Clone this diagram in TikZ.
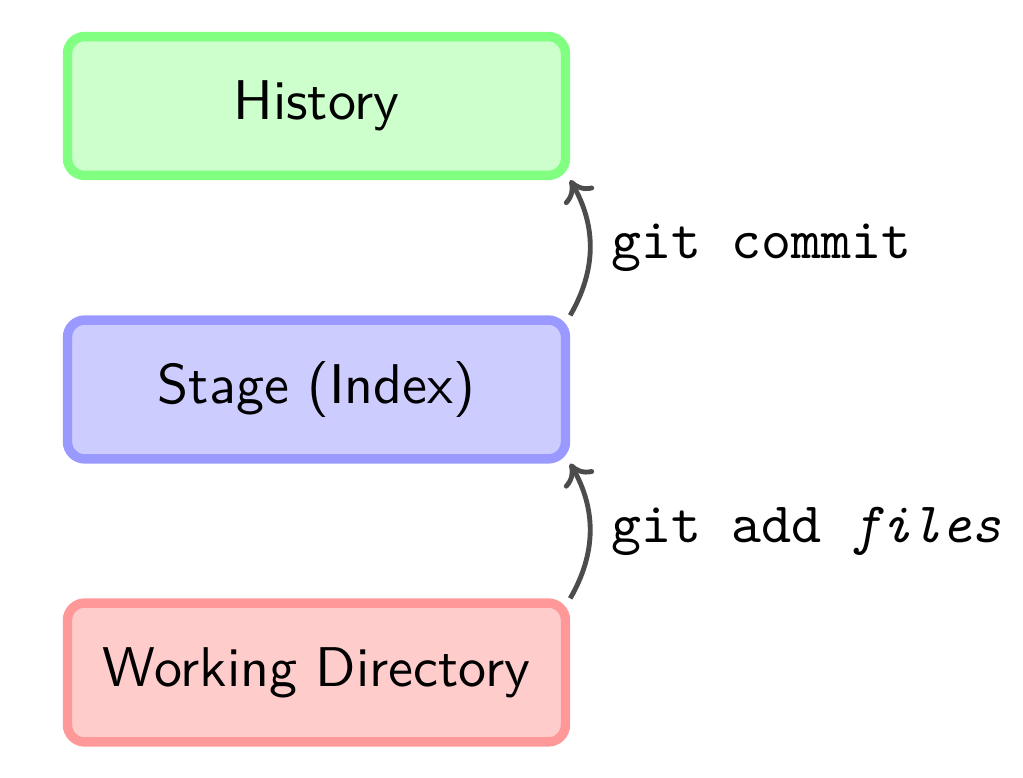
\documentclass[tikz,border=0pt]{standalone}
\usetikzlibrary{arrows.meta}
\begin{document}
\begin{tikzpicture}[x=0.175pt,y=0.175pt,
  area/.style={rectangle, rounded corners=3pt, line width=1.65pt,
    minimum width=87.15pt, minimum height=24.3pt,
    font=\sffamily\fontsize{9.8}{12}\selectfont},
  flow/.style={draw=black!70, line width=0.85pt, -{To[length=3.5pt,width=6pt]}},
  cmd/.style={right, inner sep=3.3pt, font=\ttfamily}]
\useasboundingbox (0,0) rectangle (1023,777);
\node[area, draw=green!50, fill=green!20] (hist) at (316.5,671) {History};
\node[area, draw=blue!40, fill=blue!20] (stage) at (316.5,387.5) {Stage (Index)};
\node[area, draw=red!40, fill=red!20] (work) at (316.5,104.5) {Working Directory};
\draw[flow] (work.north east) to[bend right=30]
  node[cmd] {git add \textit{files}} (stage.south east);
\draw[flow] (stage.north east) to[bend right=30]
  node[cmd] {git commit} (hist.south east);
\end{tikzpicture}
\end{document}
